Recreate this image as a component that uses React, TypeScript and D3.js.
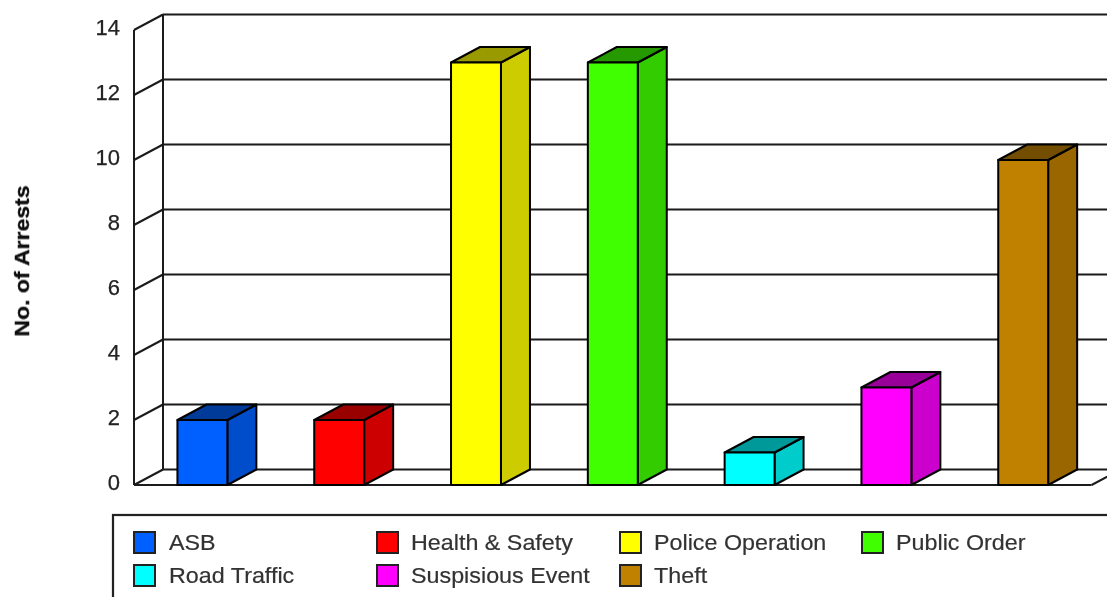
import React from "react";
import * as d3 from "d3";

const categories = ["ASB", "Health & Safety", "Police Operation", "Public Order", "Road Traffic", "Suspisious Event", "Theft"];
const arrests = [2, 2, 13, 13, 1, 3, 10];
const colours = ["#0060ff", "#ff0000", "#ffff00", "#40ff00", "#00ffff", "#ff00ff", "#c08000"];
const yTicks = [0, 2, 4, 6, 8, 10, 12, 14];
const legendColumns = [134, 377, 620, 862];
const legendRows = [532, 565];

const W = 1107, H = 597;
const DX = 29, DY = -15.5;
const y = d3.scaleLinear().domain([0, 14]).range([485, 30]);
const x = d3.scaleBand<string>().domain(categories).range([134, 134 + 7 * 136.8]).paddingInner(0.635).paddingOuter(0.3175);
const rgbScale = (c: string, k: number) => {
  const r = d3.rgb(c);
  return d3.rgb(r.r * k, r.g * k, r.b * k).formatHex();
};
const line = "#1a1a1a";
const font = "'Liberation Sans', Arial, sans-serif";

export default function App() {
  const x0 = x.range()[0];
  const x1 = x.range()[1];
  return (
    <svg width={W} height={H} style={{ position: "absolute", left: 0, top: 0, background: "#fff" }} fontFamily={font}>
      <defs>
        <filter id="soft" filterUnits="userSpaceOnUse" x="0" y="0" width={W} height={H}>
          <feGaussianBlur stdDeviation="0.55" />
        </filter>
      </defs>
      <g filter="url(#soft)">
        {/* walls and gridlines */}
        <line x1={x0} y1={y(14)} x2={x0} y2={y(0)} stroke={line} strokeWidth={2} />
        <line x1={x0 + DX} y1={y(14) + DY} x2={x0 + DX} y2={y(0) + DY} stroke={line} strokeWidth={2} />
        {yTicks.map((t) => (
          <g key={t}>
            <line x1={x0} y1={y(t)} x2={x0 + DX} y2={y(t) + DY} stroke={line} strokeWidth={2} />
            <line x1={x0 + DX} y1={y(t) + DY} x2={W} y2={y(t) + DY} stroke={line} strokeWidth={2} />
            <text x={120} y={y(t) + 5} fontSize={22} textAnchor="end" fill="#222" stroke="#222" strokeWidth={0.25}>{t}</text>
          </g>
        ))}
        <line x1={x0} y1={y(0)} x2={x1} y2={y(0)} stroke={line} strokeWidth={2} />
        <line x1={x1} y1={y(0)} x2={x1 + DX} y2={y(0) + DY} stroke={line} strokeWidth={2} />

        {/* bars */}
        {categories.map((c, i) => {
          const bx = x(c)!;
          const bw = x.bandwidth();
          const by = y(arrests[i]);
          const b0 = y(0);
          return (
            <g key={c} stroke="#000" strokeWidth={2} strokeLinejoin="round">
              <path d={`M${bx + bw},${by}L${bx + bw + DX},${by + DY}V${b0 + DY}L${bx + bw},${b0}Z`} fill={rgbScale(colours[i], 0.8)} />
              <path d={`M${bx},${by}L${bx + DX},${by + DY}H${bx + bw + DX}L${bx + bw},${by}Z`} fill={rgbScale(colours[i], 0.6)} />
              <rect x={bx} y={by} width={bw} height={b0 - by} fill={colours[i]} />
            </g>
          );
        })}

        {/* axis title */}
        <text transform="translate(29,261) rotate(-90) scale(1.15,1)" fontSize={20} fontWeight="bold" textAnchor="middle" fill="#111" stroke="#111" strokeWidth={0.3}>No. of Arrests</text>

        {/* legend */}
        <rect x={113} y={515} width={W} height={H} fill="none" stroke="#222" strokeWidth={2.2} />
        {categories.map((c, i) => {
          const lx = legendColumns[i % 4];
          const ly = legendRows[Math.floor(i / 4)];
          return (
            <g key={c}>
              <rect x={lx} y={ly} width={21} height={21} fill={colours[i]} stroke="#222" strokeWidth={2} />
              <text transform={`translate(${lx + (i % 4 === 0 ? 35 : 34)},${ly + 18}) scale(1.06,1)`} fontSize={22} fill="#333" stroke="#333" strokeWidth={0.2}>{c}</text>
            </g>
          );
        })}
      </g>
    </svg>
  );
}
